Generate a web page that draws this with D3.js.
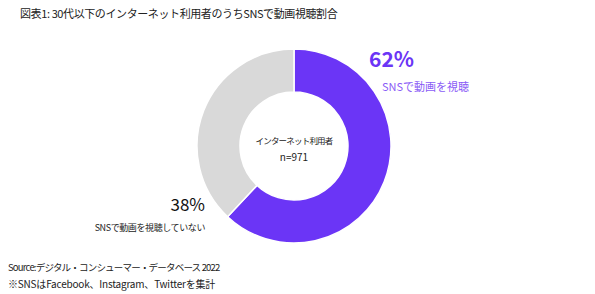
<!DOCTYPE html>
<html>
<head>
<meta charset="utf-8">
<script src="https://cdn.jsdelivr.net/npm/d3@7"></script>
<style>
  body { margin: 0; background: #fff; }
  svg { font-family: "Noto Sans CJK JP", "Noto Sans", sans-serif; }
</style>
</head>
<body>
<div class="chart"></div>
<script>
var categories = ["SNSで動画を視聴", "SNSで動画を視聴していない"];
var values = [62, 38];
var colors = ["#6b35f6", "#d9d9d9"];
var centerLabel = ["インターネット利用者", "n=971"];

var width = 595, height = 294;
var cx = 294, cy = 146;

var svg = d3.select(".chart")
    .append("svg")
    .attr("width", width)
    .attr("height", height);

svg.append("text")
    .attr("x", 20).attr("y", 18)
    .attr("font-size", 11)
    .attr("letter-spacing", -0.4)
    .attr("fill", "#222")
    .text("図表1: 30代以下のインターネット利用者のうちSNSで動画視聴割合");

var pie = d3.pie().sort(null).value(function(d) { return d; });
var arc = d3.arc().innerRadius(54).outerRadius(97);

var g = svg.append("g")
    .attr("transform", "translate(" + cx + "," + cy + ")");

g.selectAll("path")
    .data(pie(values))
  .enter().append("path")
    .attr("d", arc)
    .attr("fill", function(d, i) { return colors[i]; })
    .attr("stroke", "#fff")
    .attr("stroke-width", 1.5);

g.selectAll(".center")
    .data(centerLabel)
  .enter().append("text")
    .attr("class", "center")
    .attr("text-anchor", "middle")
    .attr("y", function(d, i) { return -2 + i * 17; })
    .attr("font-size", function(d, i) { return i === 0 ? 8.5 : 10; })
    .attr("letter-spacing", function(d, i) { return i === 0 ? -0.8 : 0; })
    .attr("fill", "#222")
    .text(function(d) { return d; });

// value labels
svg.append("text")
    .attr("x", 369).attr("y", 67)
    .attr("font-size", 21)
    .attr("font-weight", "bold")
    .attr("fill", "#6b35f6")
    .text(values[0] + "%");

svg.append("text")
    .attr("x", 382).attr("y", 91)
    .attr("font-size", 11)
    .attr("fill", "#8a5cf6")
    .text(categories[0]);

svg.append("text")
    .attr("x", 205).attr("y", 211)
    .attr("text-anchor", "end")
    .attr("font-size", 17)
    .attr("fill", "#111")
    .text(values[1] + "%");

svg.append("text")
    .attr("x", 205).attr("y", 231)
    .attr("text-anchor", "end")
    .attr("font-size", 9)
    .attr("letter-spacing", -0.4)
    .attr("fill", "#222")
    .text(categories[1]);

svg.append("text")
    .attr("x", 8).attr("y", 271)
    .attr("font-size", 9.5)
    .attr("letter-spacing", -0.8)
    .attr("fill", "#222")
    .text("Source:デジタル・コンシューマー・データベース 2022");

svg.append("text")
    .attr("x", 8).attr("y", 288)
    .attr("font-size", 10)
    .attr("letter-spacing", -0.2)
    .attr("fill", "#222")
    .text("※SNSはFacebook、Instagram、Twitterを集計");
</script>
</body>
</html>
